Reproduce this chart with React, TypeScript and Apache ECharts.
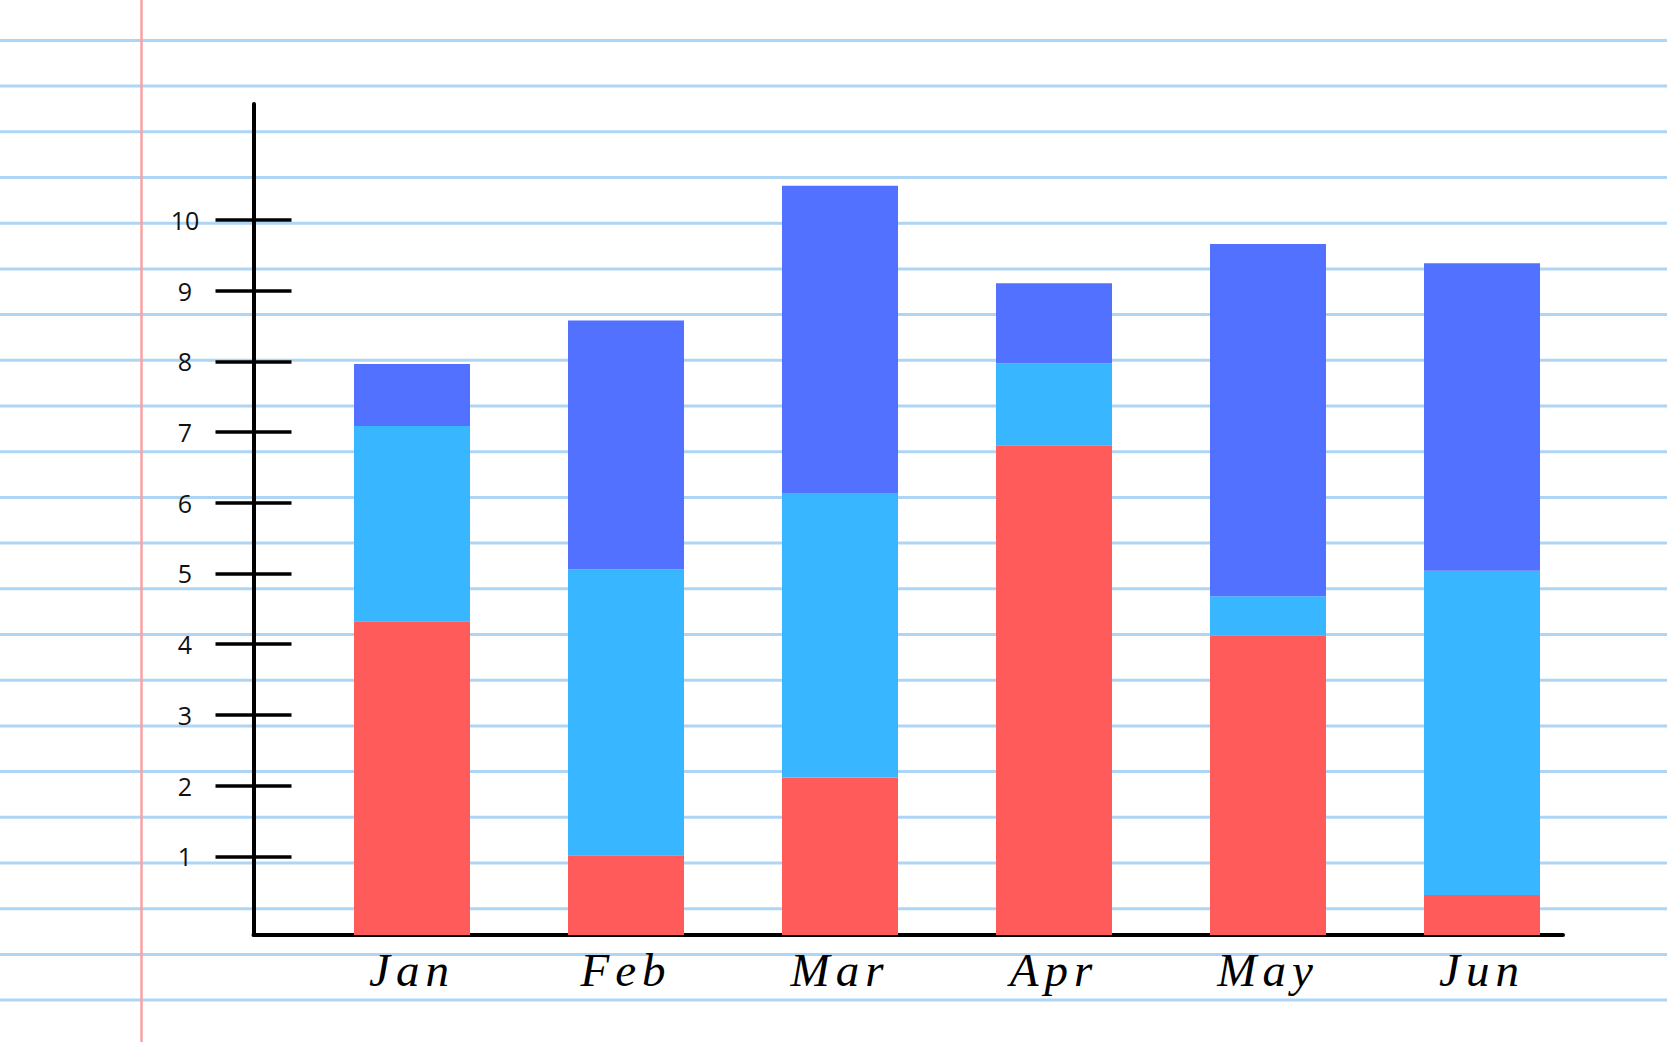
import { useEffect, useRef } from "react";
import * as echarts from "echarts";

// data
const months = ["Jan", "Feb", "Mar", "Apr", "May", "Jun"];
const redValues = [4.4, 1.12, 2.21, 6.87, 4.2, 0.56];
const cyanValues = [2.74, 4.01, 3.99, 1.15, 0.55, 4.55];
const blueValues = [0.87, 3.49, 4.31, 1.12, 4.94, 4.31];
const rulerTicks = [1, 2, 3, 4, 5, 6, 7, 8, 9, 10];

const W = 1667;
const H = 1042;

export default function App() {
  const chartRef = useRef<HTMLDivElement>(null);

  useEffect(() => {
    if (!chartRef.current) return;
    const chart = echarts.init(chartRef.current, null, { renderer: "svg" });

    // notebook paper: ruled lines + margin line
    const paper: any[] = [];
    for (let y = 40.4; y < H; y += 45.7) {
      paper.push({
        type: "line",
        silent: true,
        z: -10,
        shape: { x1: 0, y1: y, x2: W, y2: y },
        style: { stroke: "#AED5F4", lineWidth: 3 },
      });
    }
    paper.push({
      type: "line",
      silent: true,
      z: -9,
      shape: { x1: 141.5, y1: 0, x2: 141.5, y2: H },
      style: { stroke: "#F6A3A3", lineWidth: 2.5 },
    });

    const tickStyle = { color: "#000", width: 3.5 };

    chart.setOption({
      animation: false,
      backgroundColor: "#fff",
      graphic: paper,
      grid: [
        // bars
        { left: 305, right: 78, top: 104, bottom: 107, outerBoundsMode: "none" },
        // hand drawn ruler axes
        { left: 253.5, right: 104, top: 104, bottom: 107, outerBoundsMode: "none" },
      ],
      xAxis: [
        {
          type: "category",
          gridIndex: 0,
          data: months,
          axisLine: { show: false },
          axisTick: { show: false },
          axisLabel: {
            interval: 0,
            margin: 11,
            fontSize: 47,
            fontStyle: "italic",
            fontFamily: "Liberation Serif",
            color: "#000",
          },
        },
        {
          type: "value",
          gridIndex: 1,
          position: "bottom",
          min: 0,
          max: 1,
          axisLine: { show: true, onZero: false, lineStyle: { color: "#000", width: 4 } },
          axisTick: { show: false },
          axisLabel: { show: false },
          splitLine: { show: false },
        },
      ],
      yAxis: [
        {
          type: "value",
          gridIndex: 0,
          min: 0,
          max: 11.655,
          show: false,
          splitLine: { show: false },
        },
        {
          type: "value",
          gridIndex: 1,
          position: "left",
          min: -0.113,
          max: 11.64,
          axisLine: { show: true, onZero: false, lineStyle: { color: "#000", width: 4 } },
          axisTick: { show: true, inside: false, length: 38, customValues: rulerTicks, lineStyle: tickStyle },
          axisLabel: {
            show: true,
            customValues: rulerTicks,
            align: "center",
            margin: 68.5,
            fontSize: 25,
            fontFamily: "Open Sans",
            color: "#111",
          },
          splitLine: { show: false },
        },
        {
          type: "value",
          gridIndex: 1,
          position: "left",
          offset: 0,
          min: -0.113,
          max: 11.64,
          axisLine: { show: false, onZero: false },
          axisTick: { show: true, inside: true, length: 38, customValues: rulerTicks, lineStyle: tickStyle },
          axisLabel: { show: false },
          splitLine: { show: false },
        },
      ],
      series: [
        { name: "Red", type: "bar", stack: "total", barWidth: 116, data: redValues, itemStyle: { color: "#FF5B5B" } },
        { name: "Cyan", type: "bar", stack: "total", barWidth: 116, data: cyanValues, itemStyle: { color: "#38B6FF" } },
        { name: "Blue", type: "bar", stack: "total", barWidth: 116, data: blueValues, itemStyle: { color: "#5271FF" } },
      ],
    });

    return () => {
      chart.dispose();
    };
  }, []);

  return (
    <>
      <style>{`#paper text[style*="italic"]{letter-spacing:6px}`}</style>
      <div
        id="paper"
        ref={chartRef}
        style={{ position: "fixed", left: 0, top: 0, width: W, height: H }}
      ></div>
    </>
  );
}
